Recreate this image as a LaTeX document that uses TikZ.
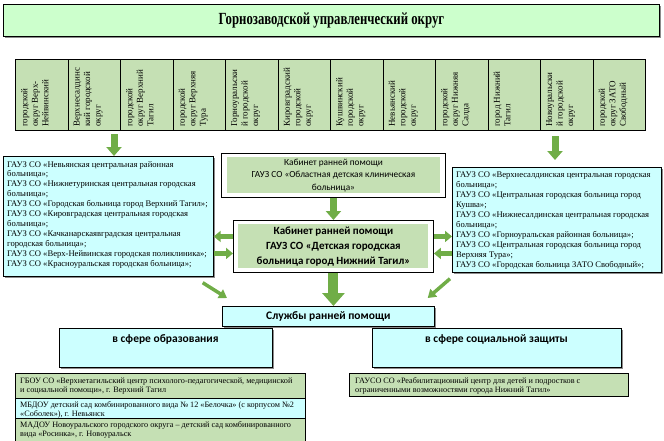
\documentclass[tikz,border=0pt]{standalone}
\usepackage{fontspec}
\usepackage{graphicx}
\setmainfont{Liberation Serif}
\newfontfamily\carl{Carlito}
\usetikzlibrary{arrows.meta,shadows,calc}
\definecolor{cellg}{HTML}{C5E0B4}
\definecolor{titleg}{HTML}{CCFFCC}
\definecolor{cyanf}{HTML}{CCFFFF}
\definecolor{arrg}{HTML}{70AD47}
\newcommand{\fsA}{\fontsize{8.6}{9.9}\selectfont}
\newcommand{\fsB}{\fontsize{8.2}{9}\selectfont}
\newcommand{\fsC}{\carl\bfseries\fontsize{11.5}{13}\selectfont}
\begin{document}
\begin{tikzpicture}[x=1pt,y=-1pt,
  shad/.style={drop shadow={shadow xshift=1.5pt,shadow yshift=-1.5pt,fill=black!45,opacity=1}},
  tbox/.style={draw=black,line width=0.9pt,fill=titleg,inner sep=0,shad},
  cellbox/.style={draw=black,line width=0.9pt,fill=cellg,inner sep=0},
  celltext/.style={rotate=90,anchor=north west,align=left,inner sep=0,font=\fontsize{9}{10.5}\selectfont},
  cbox/.style={draw=black,line width=0.7pt,fill=cyanf,inner sep=0,shad},
  gbox/.style={draw=black,line width=0.9pt,fill=cellg,inner sep=0},
  ginner/.style={fill=cellg,inner sep=0},
  wbox/.style={draw=black,line width=0.9pt,fill=white,inner sep=0},
  ltext/.style={anchor=north west,align=left,inner sep=0},
  barrow/.style={draw=arrg,line width=7pt,-{Triangle[width=15pt,length=9pt]}},
  sarrow/.style={draw=arrg,line width=4.5pt,-{Triangle[width=11pt,length=7pt]}},
  darrow/.style={draw=arrg,line width=3.5pt,-{Triangle[width=10pt,length=8pt]}},
  bigarrow/.style={draw=arrg,line width=10pt,-{Triangle[width=22pt,length=13pt]}}]
\useasboundingbox (0,0) rectangle (664,440);
% title
\node[tbox,minimum width=656pt,minimum height=32pt,anchor=north west] (title) at (3,4)
  {\fontsize{17}{19}\selectfont\bfseries\scalebox{0.75}[1]{Горнозаводской управленческий округ}};
% row of districts
\foreach \i in {0,...,11}
  \node[cellbox,minimum width=52.5pt,minimum height=71pt,anchor=north west] (c\i) at ({15+52.5*\i},59) {};
\node[celltext] (t0) at ([shift={(6,-4)}]c0.south west) {городской\\округ Верх-\\Нейвинский};
\node[celltext] (t1) at ([shift={(6,-4)}]c1.south west) {Верхнесалдинс\\кий городской\\округ};
\node[celltext] (t2) at ([shift={(6,-4)}]c2.south west) {городской\\округ Верхний\\Тагил};
\node[celltext] (t3) at ([shift={(6,-4)}]c3.south west) {городской\\округ Верхняя\\Тура};
\node[celltext] (t4) at ([shift={(6,-4)}]c4.south west) {Горноуральски\\й городской\\округ};
\node[celltext] (t5) at ([shift={(6,-4)}]c5.south west) {Кировградский\\городской\\округ};
\node[celltext] (t6) at ([shift={(6,-4)}]c6.south west) {Кушвинский\\городской\\округ};
\node[celltext] (t7) at ([shift={(6,-4)}]c7.south west) {Невьянский\\городской\\округ};
\node[celltext] (t8) at ([shift={(6,-4)}]c8.south west) {городской\\округ Нижняя\\Салда};
\node[celltext] (t9) at ([shift={(6,-4)}]c9.south west) {город Нижний\\Тагил};
\node[celltext] (t10) at ([shift={(6,-4)}]c10.south west) {Новоуральски\\й городской\\округ};
\node[celltext] (t11) at ([shift={(6,-4)}]c11.south west) {городской\\округ ЗАТО\\Свободный};
% left box
\node[cbox,minimum width=210pt,minimum height=120pt,anchor=north west] (lbox) at (3,156) {};
\node[ltext,font=\fsA] (ltx) at (7,161) {ГАУЗ СО «Невьянская центральная районная\\больница»;\\ГАУЗ СО «Нижнетуринская центральная городская\\больница»;\\ГАУЗ СО «Городская больница город Верхний Тагил»;\\ГАУЗ СО «Кировградская центральная городская\\больница»;\\ГАУЗ СО «Качканарскаявградская центральная\\городская больница»;\\ГАУЗ СО «Верх-Нейвинская городская поликлиника»;\\ГАУЗ СО «Красноуральская городская больница»;};
% right box
\node[cbox,minimum width=209pt,minimum height=105pt,anchor=north west] (rbox) at (452,167) {};
\node[ltext,font=\fsA] (rtx) at (456,172) {ГАУЗ СО «Верхнесалдинская центральная городская\\больница»;\\ГАУЗ СО «Центральная городская больница город\\Кушва»;\\ГАУЗ СО «Нижнесалдинская центральная городская\\больница»;\\ГАУЗ СО «Горноуральская районная больница»;\\ГАУЗ СО «Центральная городская больница город\\Верхняя Тура»;\\ГАУЗ СО «Городская больница ЗАТО Свободный»;};
% center top box
\node[wbox,minimum width=224pt,minimum height=44pt,anchor=north west] (ctop) at (221,153) {};
\node[ginner,minimum width=213pt,minimum height=36pt,align=center,font=\carl\fontsize{9.3}{12.5}\selectfont] (ctopin) at (ctop.center) {Кабинет ранней помощи\\ГАУЗ СО «Областная детская клиническая\\больница»};
% middle box
\node[wbox,minimum width=200pt,minimum height=52pt,anchor=north west] (mbox) at (233,220) {};
\node[ginner,minimum width=190pt,minimum height=44pt,align=center,font=\carl\bfseries\fontsize{11}{15}\selectfont] (mboxin) at (mbox.center) {Кабинет ранней помощи\\ГАУЗ СО «Детская городская\\больница город Нижний Тагил»};
% services
\node[cbox,minimum width=212pt,minimum height=20pt,font=\fsC,anchor=north west] (sbox) at (222,306) {Службы ранней помощи};
\node[cbox,minimum width=213pt,minimum height=39pt,anchor=north west] (ebox) at (59,328) {};
\node[font=\fsC,inner sep=0] (etx) at (165.5,339) {в сфере образования};
\node[cbox,minimum width=249pt,minimum height=39pt,anchor=north west] (sobox) at (372,328) {};
\node[font=\fsC,inner sep=0] (sotx) at (496.5,339) {в сфере социальной защиты};
% bottom lists
\node[gbox,minimum width=290pt,minimum height=25pt,anchor=north west] (b1) at (15,373) {};
\node[ltext,font=\fsB] (b1t) at (20,378) {ГБОУ СО «Верхнетагильский центр психолого-педагогической, медицинской\\и социальной помощи», г. Верхний Тагил};
\node[draw=black,line width=0.9pt,fill=cyanf,inner sep=0,minimum width=290pt,minimum height=20pt,anchor=north west] (b2) at (15,398) {};
\node[ltext,font=\fsB] (b2t) at (20,401) {МБДОУ детский сад комбинированного вида № 12 «Белочка» (с корпусом №2\\«Соболек»), г. Невьянск};
\node[gbox,minimum width=290pt,minimum height=24pt,anchor=north west] (b3) at (15,418) {};
\node[ltext,font=\fsB] (b3t) at (20,421) {МАДОУ Новоуральского городского округа – детский сад комбинированного\\вида «Росинка», г. Новоуральск};
\node[gbox,minimum width=279pt,minimum height=23pt,anchor=north west] (b4) at (349,373) {};
\node[ltext,font=\fsB] (b4t) at (355,377) {ГАУСО СО «Реабилитационный центр для детей и подростков с\\ограниченными возможностями города Нижний Тагил»};
% arrows
\coordinate (a1) at (114,134);
\coordinate (a2) at (555,136);
\draw[barrow] (a1) -- (a1 |- lbox.north);
\draw[barrow,shorten >=7pt] (a2) -- (a2 |- rbox.north);
\draw[barrow] (ctop.south) -- (mbox.north);
\draw[sarrow] ([yshift=10pt]mbox.west) -- ([yshift=10pt]mbox.west -| lbox.east);
\draw[sarrow] ([yshift=-7pt]lbox.east |- mbox.west) -- ([yshift=-7pt]mbox.west);
\draw[sarrow] ([yshift=10pt]mbox.east) -- ([yshift=10pt]mbox.east -| rbox.west);
\draw[sarrow] ([yshift=-7pt]rbox.west |- mbox.east) -- ([yshift=-7pt]mbox.east);
\draw[darrow] ([shift={(-11,6)}]lbox.south east) -- ([shift={(5,-8)}]sbox.north west);
\draw[darrow] ([shift={(-2,6)}]rbox.south west) -- ([shift={(-7,-8)}]sbox.north east);
\draw[bigarrow] (mbox.south) -- (mbox.south |- sbox.north);
\end{tikzpicture}
\end{document}
